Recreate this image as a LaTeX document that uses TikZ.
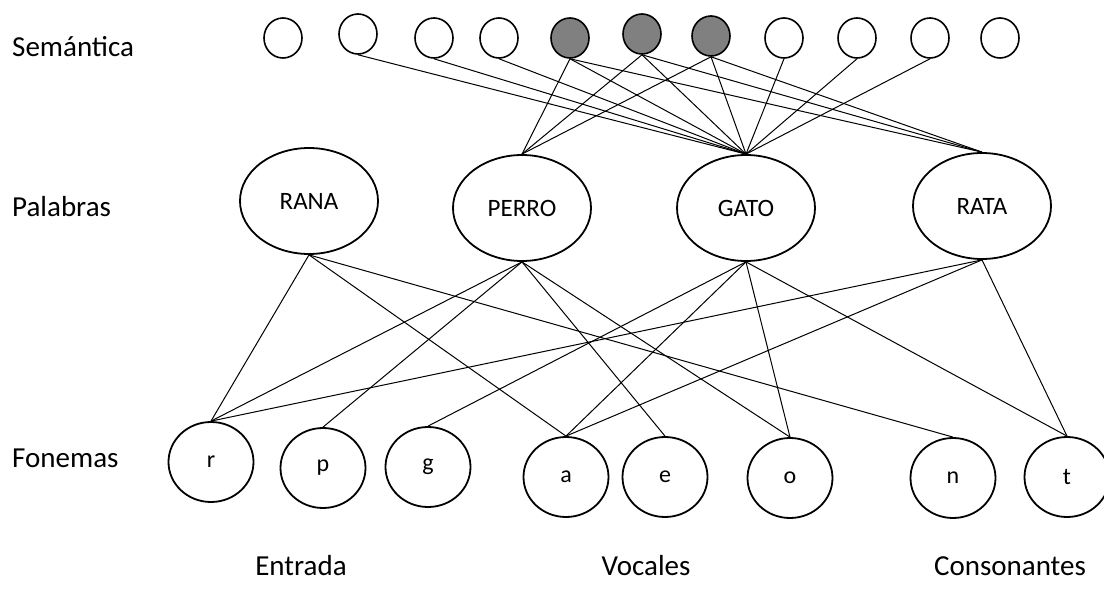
\documentclass[tikz,border=0pt]{standalone}
\usepackage{fontspec}
\setmainfont{Carlito}
\usetikzlibrary{shapes.geometric}
\tikzset{
  sem/.style={ellipse,draw,line width=1.6pt,minimum width=38pt,minimum height=40pt,inner sep=0pt},
  semon/.style={sem,fill=black!50},
  word/.style={ellipse,draw,line width=1.8pt,minimum width=138pt,minimum height=106pt,inner sep=0pt,
    font=\fontsize{25}{30}\selectfont},
  fon/.style={ellipse,draw,line width=1.8pt,minimum width=85pt,minimum height=80pt,inner sep=0pt,
    font=\fontsize{24}{28}\selectfont},
  lbl/.style={font=\fontsize{29}{34}\selectfont,inner sep=0pt}
}
\begin{document}
\begin{tikzpicture}[x=1pt,y=-1pt]
  \useasboundingbox (0,0) rectangle (1104,599);
  % capa semantica
  \path
    (283,38) node[sem] (s1){}
    (358,34) node[sem] (s2){}
    (434,38) node[sem] (s3){}
    (499,38) node[sem] (s4){}
    (570,38) node[semon] (s5){}
    (642,34) node[semon] (s6){}
    (711,36) node[semon] (s7){}
    (784,38) node[sem] (s8){}
    (857,38) node[sem] (s9){}
    (930,38) node[sem] (s10){}
    (1000,38) node[sem] (s11){};
  % palabras
  \path
    (309,201) node[word] (rana){RANA}
    (522,208) node[word] (perro){PERRO}
    (746,208) node[word] (gato){GATO}
    (982,206) node[word] (rata){RATA};
  % fonemas
  \path
    (211,462) node[fon] (r){r}
    (323,468) node[fon] (p){p}
    (428,467) node[fon] (g){g}
    (566,477) node[fon] (a){a}
    (665,477) node[fon] (e){e}
    (790,478) node[fon] (o){o}
    (953,478) node[fon] (n){n}
    (1067,477) node[fon] (t){t};
  % rotulos
  \node[lbl,anchor=west] (semantica) at (12,47) {Semántica};
  \node[lbl,anchor=west] (palabras) at (12,207) {Palabras};
  \node[lbl,anchor=west] (fonemas) at (12,458) {Fonemas};
  \node[lbl] (entrada) at (301,566) {Entrada};
  \node[lbl] (vocales) at (646,566) {Vocales};
  \node[lbl] (consonantes) at (1010,566) {Consonantes};
  \begin{scope}[line width=1pt]
    \draw (s2.south) to (gato.north);
    \draw (s3.south) to (gato.north);
    \draw (s4.south) to (gato.north);
    \draw (s5.south) to (perro.north);
    \draw (s5.south) to (gato.north);
    \draw (s5.south) to (rata.north);
    \draw (s6.south) to (perro.north);
    \draw (s6.south) to (gato.north);
    \draw (s6.south) to (rata.north);
    \draw (s7.south) to (perro.north);
    \draw (s7.south) to (gato.north);
    \draw (s7.south) to (rata.north);
    \draw (s8.south) to (gato.north);
    \draw (s9.south) to (gato.north);
    \draw (s10.south) to (gato.north);
    \draw (rana.south) to (r.north);
    \draw (rana.south) to (a.north);
    \draw (rana.south) to (n.north);
    \draw (perro.south) to (p.north);
    \draw (perro.south) to (e.north);
    \draw (perro.south) to (r.north);
    \draw (perro.south) to (o.north);
    \draw (gato.south) to (g.north);
    \draw (gato.south) to (a.north);
    \draw (gato.south) to (t.north);
    \draw (gato.south) to (o.north);
    \draw (rata.south) to (r.north);
    \draw (rata.south) to (a.north);
    \draw (rata.south) to (t.north);
  \end{scope}
\end{tikzpicture}
\end{document}
